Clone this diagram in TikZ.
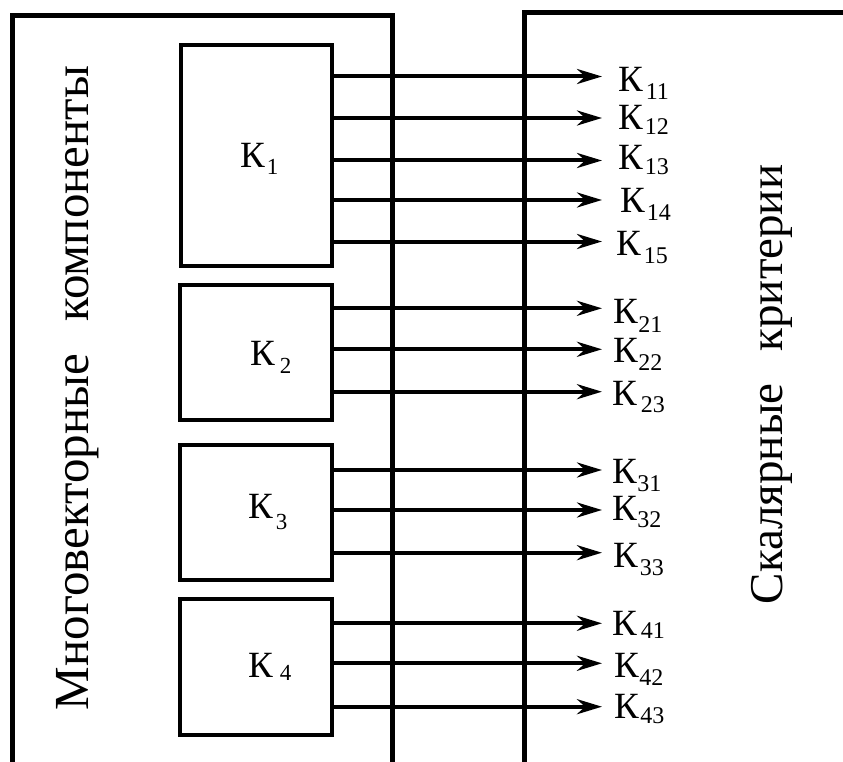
\documentclass[tikz,border=0pt]{standalone}
\usepackage{fontspec}
\setmainfont{Liberation Serif}
\usetikzlibrary{arrows.meta}
\newcommand\Klab[3]{\fontsize{37}{37}\selectfont К\kern#1pt\raisebox{-#2pt}{\fontsize{24}{24}\selectfont #3}}
\newcommand\Blab[3]{\fontsize{37}{37}\selectfont К\kern#1pt\raisebox{-#2pt}{\fontsize{23}{23}\selectfont #3}}
\begin{document}
\begin{tikzpicture}[x=1pt,y=1pt,
  outer/.style={line width=5.5pt},
  box/.style={draw,line width=4pt,rectangle,inner sep=0pt,outer sep=0pt},
  arr/.style={line width=4pt,-{Stealth[length=25pt,width=15pt]}},
  lab/.style={anchor=base west,inner sep=0pt},
  vtext/.style={rotate=90,anchor=base,inner sep=0pt}]
\useasboundingbox (0,0) rectangle (843,-762);
\clip (0,0) rectangle (843,-762);
% outer frames
\draw[outer] (12.5,-770) -- (12.5,-15.5) -- (392.5,-15.5) -- (392.5,-770);
\draw[outer] (524.5,-770) -- (524.5,-12.5) -- (850,-12.5);
% vertical titles
\node[vtext,font=\fontsize{49}{49}\selectfont] (lt) at (88,-388) {Многовекторные\hspace{33pt}компоненты};
\node[vtext,font=\fontsize{47}{47}\selectfont] (rt) at (782,-384.5) {Скалярные\hspace{32pt}критерии};
% component boxes
\node[box,minimum width=151,minimum height=220.5] (k1) at (256.5,-155.25) {};
\node[box,minimum width=152,minimum height=135] (k2) at (256,-352.5) {};
\node[box,minimum width=152,minimum height=135] (k3) at (256,-512.5) {};
\node[box,minimum width=152,minimum height=136] (k4) at (256,-667) {};
\node[lab] (b1) at (240,-168) {\Blab{2}{7}{1}};
\node[lab] (b2) at (250,-365) {\Blab{5}{8}{2}};
\node[lab] (b3) at (248,-518) {\Blab{3}{11}{3}};
\node[lab] (b4) at (248,-677) {\Blab{7}{3}{4}};
% arrow tips
\foreach \n/\y in {11/76.5,12/118,13/160.5,14/200,15/241.5,21/308.3,22/349.3,23/391.7,31/470,32/510,33/552.7,41/623.3,42/663.3,43/706.7}
  \coordinate (t\n) at (602,-\y);
% arrows
\foreach \n in {11,12,13,14,15} \draw[arr] (k1.east |- t\n) -- (t\n);
\foreach \n in {21,22,23} \draw[arr] (k2.east |- t\n) -- (t\n);
\foreach \n in {31,32,33} \draw[arr] (k3.east |- t\n) -- (t\n);
\foreach \n in {41,42,43} \draw[arr] (k4.east |- t\n) -- (t\n);
% labels
\node[lab] (l11) at (618,-92) {\Klab{3}{8}{11}};
\node[lab] (l12) at (618,-130) {\Klab{2}{5}{12}};
\node[lab] (l13) at (618,-170) {\Klab{2}{5}{13}};
\node[lab] (l14) at (620,-213) {\Klab{2}{7}{14}};
\node[lab] (l15) at (616,-255) {\Klab{3}{8}{15}};
\node[lab] (l21) at (613,-323) {\Klab{0.5}{9}{21}};
\node[lab] (l22) at (613,-362) {\Klab{0.5}{8}{22}};
\node[lab] (l23) at (612,-405) {\Klab{4}{7}{23}};
\node[lab] (l31) at (612,-483) {\Klab{0.5}{8}{31}};
\node[lab] (l32) at (612,-520) {\Klab{0.5}{7}{32}};
\node[lab] (l33) at (613,-567) {\Klab{2}{8}{33}};
\node[lab] (l41) at (612,-635) {\Klab{4}{3}{41}};
\node[lab] (l42) at (614,-677) {\Klab{0.5}{8}{42}};
\node[lab] (l43) at (614,-718) {\Klab{1.5}{5}{43}};
\end{tikzpicture}
\end{document}
